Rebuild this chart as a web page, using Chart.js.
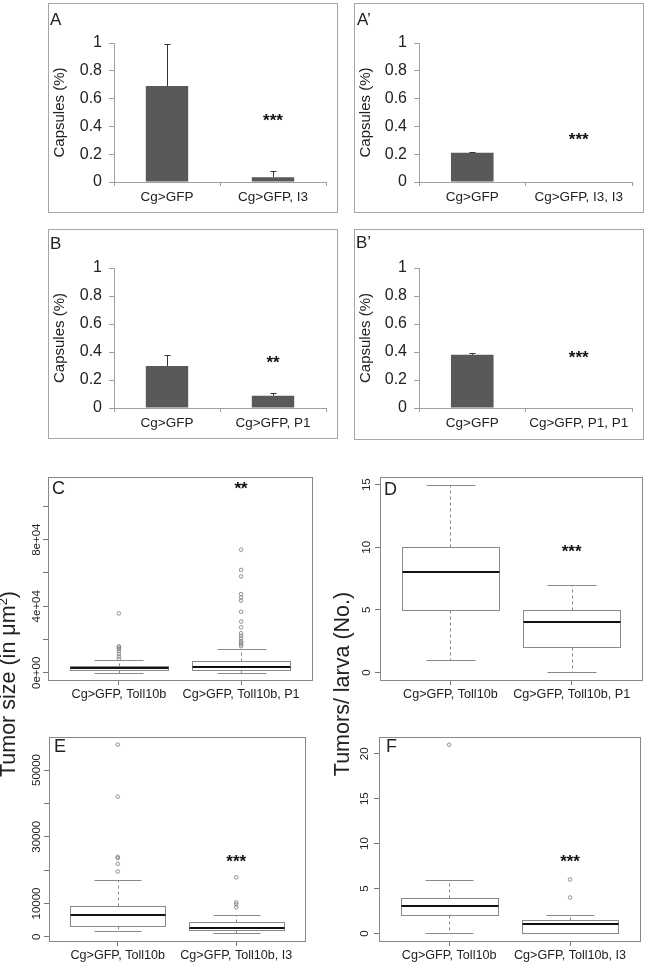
<!DOCTYPE html>
<html>
<head>
<meta charset="utf-8">
<script src="https://cdn.jsdelivr.net/npm/chart.js@4.4.1/dist/chart.umd.min.js"></script>
<style>
body { margin: 0; background: #fff; }
#fig { position: relative; width: 645px; height: 963px; overflow: hidden; font-family: 'Liberation Sans', Arial, sans-serif; color: #222; }
#fig canvas { position: absolute; }
.frame { position: absolute; border: 1px solid #a6a6a6; box-sizing: border-box; }
.tag { position: absolute; line-height: 1; }
.bigtitle { position: absolute; width: 260px; height: 26px; line-height: 26px; text-align: center; font-size: 21.5px; transform: rotate(-90deg); white-space: nowrap; }
.bigtitle sup { font-size: 13px; line-height: 0; }
</style>
</head>
<body>
<div id="fig">
  <div class="frame" style="left:48px;top:3px;width:290px;height:210px"></div>
  <div class="frame" style="left:354px;top:3px;width:290px;height:210px"></div>
  <div class="frame" style="left:48px;top:229px;width:290px;height:210px"></div>
  <div class="frame" style="left:354px;top:229px;width:290px;height:211px"></div>

  <canvas id="cA" width="289" height="209" style="left:48px;top:3px"></canvas>
  <canvas id="cA2" width="289" height="210" style="left:354px;top:3px"></canvas>
  <canvas id="cB" width="289" height="209" style="left:48px;top:229px"></canvas>
  <canvas id="cB2" width="289" height="210" style="left:354px;top:229px"></canvas>

  <canvas id="cC" width="330" height="240" style="left:0px;top:470px"></canvas>
  <canvas id="cD" width="315" height="240" style="left:330px;top:470px"></canvas>
  <canvas id="cE" width="330" height="233" style="left:0px;top:730px"></canvas>
  <canvas id="cF" width="315" height="233" style="left:330px;top:730px"></canvas>

  <div class="tag" style="left:50px;top:11px;font-size:17px">A</div>
  <div class="tag" style="left:357px;top:11px;font-size:17px">A’</div>
  <div class="tag" style="left:50px;top:235px;font-size:17px">B</div>
  <div class="tag" style="left:356px;top:234px;font-size:17px">B’</div>
  <div class="tag" style="left:52px;top:479px;font-size:18px">C</div>
  <div class="tag" style="left:384px;top:480px;font-size:18px">D</div>
  <div class="tag" style="left:54px;top:737px;font-size:18px">E</div>
  <div class="tag" style="left:386px;top:737px;font-size:18px">F</div>

  <div class="bigtitle" style="left:-122px;top:671px">Tumor size (in μm<sup>2</sup>)</div>
  <div class="bigtitle" style="left:212px;top:671px">Tumors/ larva (No.)</div>
</div>

<script>
// ---- bar panels (capsules) ----
const catsA = ['Cg>GFP', 'Cg>GFP, I3'];
const capsA = [0.69, 0.035];
const errA = [0.30, 0.043];
const sigA = ['', '***'];
const sigPosA = [0, 0.47];

const catsA2 = ['Cg>GFP', 'Cg>GFP, I3, I3'];
const capsA2 = [0.21, 0];
const errA2 = [0.006, 0];
const sigA2 = ['', '***'];
const sigPosA2 = [0, 0.335];

const catsB = ['Cg>GFP', 'Cg>GFP, P1'];
const capsB = [0.30, 0.088];
const errB = [0.08, 0.02];
const sigB = ['', '**'];
const sigPosB = [0, 0.355];

const catsB2 = ['Cg>GFP', 'Cg>GFP, P1, P1'];
const capsB2 = [0.38, 0];
const errB2 = [0.015, 0];
const sigB2 = ['', '***'];
const sigPosB2 = [0, 0.393];

const capTicks = [0, 0.2, 0.4, 0.6, 0.8, 1];

// ---- box panels (tumors) ----
const catsCD = ['Cg>GFP, Toll10b', 'Cg>GFP, Toll10b, P1'];
const catsEF = ['Cg>GFP, Toll10b', 'Cg>GFP, Toll10b, I3'];

const loC = [200, 200];
const q1C = [1600, 2000];
const medC = [2900, 3500];
const q3C = [4300, 7000];
const hiC = [7500, 14300];
const outC1 = [8400, 9800, 11400, 13000, 14300, 15300, 15900, 35700];
const outC2 = [16000, 17000, 18000, 19000, 20600, 22200, 23800, 27300, 30800, 36700, 43400, 45300, 47300, 57900, 61800, 74000, 112000];
const yTicksC = [0, 20000, 40000, 60000, 80000, 100000];
const yLabelsC = ['0e+00', '', '4e+04', '', '8e+04', ''];
const sigC = ['', '**'];
const sigPosC = [0, 113500];

const loD = [1, 0];
const q1D = [5, 2];
const medD = [8, 4];
const q3D = [10, 5];
const hiD = [15, 7];
const outD1 = [];
const outD2 = [];
const yTicksD = [0, 5, 10, 15];
const yLabelsD = ['0', '5', '10', '15'];
const sigD = ['', '***'];
const sigPosD = [0, 10];

const loE = [1775, 1270];
const q1E = [3250, 2160];
const medE = [6500, 2660];
const q3E = [9350, 4440];
const hiE = [17160, 6500];
const outE1 = [19600, 21900, 23600, 24000, 42000, 57600];
const outE2 = [8870, 9760, 10350, 17840];
const yTicksE = [0, 10000, 20000, 30000, 40000, 50000];
const yLabelsE = ['0', '10000', '', '30000', '', '50000'];
const sigE = ['', '***'];
const sigPosE = [0, 23800];

const loF = [0, 0];
const q1F = [2, 0];
const medF = [3, 1];
const q3F = [4, 1.5];
const hiF = [6, 2];
const outF1 = [21];
const outF2 = [4, 6];
const yTicksF = [0, 5, 10, 15, 20];
const yLabelsF = ['0', '5', '10', '15', '20'];
const sigF = ['', '***'];
const sigPosF = [0, 8.5];

Chart.defaults.font.family = "'Liberation Sans', Arial, sans-serif";
Chart.defaults.color = '#222';
Chart.defaults.animation = false;

function drawStars(chart, xs, sig, sigPos, size) {
    const ctx = chart.ctx;
    const y = chart.scales.y;
    ctx.save();
    ctx.font = 'bold ' + size + "px 'Liberation Sans', Arial, sans-serif";
    ctx.fillStyle = '#111';
    ctx.textAlign = 'center';
    ctx.textBaseline = 'alphabetic';
    sig.forEach((s, i) => {
        if (!s) return;
        // glyph centre of '*' sits about 0.57em above the baseline
        ctx.fillText(s, xs[i], y.getPixelForValue(sigPos[i]) + size * 0.57);
    });
    ctx.restore();
}

function barPanel(id, cats, vals, errs, sig, sigPos, lay) {
    const errorBars = {
        id: 'errorBars',
        afterDatasetsDraw(chart) {
            const ctx = chart.ctx;
            const meta = chart.getDatasetMeta(0);
            const y = chart.scales.y;
            ctx.save();
            ctx.strokeStyle = '#333';
            ctx.lineWidth = 1;
            vals.forEach((v, i) => {
                if (!errs[i]) return;
                const x = Math.round(meta.data[i].x) + 0.5;
                const yb = y.getPixelForValue(v);
                const yt = Math.round(y.getPixelForValue(v + errs[i])) + 0.5;
                ctx.beginPath();
                ctx.moveTo(x, yb);
                ctx.lineTo(x, yt);
                ctx.moveTo(x - 3, yt);
                ctx.lineTo(x + 3, yt);
                ctx.stroke();
            });
            ctx.restore();
            const xs = cats.map((c, i) => chart.scales.x.getPixelForValue(i));
            drawStars(chart, xs, sig, sigPos, 17);
        }
    };
    return new Chart(document.getElementById(id), {
        type: 'bar',
        data: {
            labels: cats,
            datasets: [{
                data: vals,
                backgroundColor: '#595959',
                barPercentage: 0.8,
                categoryPercentage: 0.5
            }]
        },
        options: {
            responsive: false,
            layout: { padding: { top: lay.top, right: lay.right, left: 0, bottom: 0 } },
            plugins: { legend: { display: false }, tooltip: { enabled: false } },
            scales: {
                x: {
                    grid: { drawOnChartArea: false, tickLength: 4, color: '#a0a0a0' },
                    border: { color: '#a0a0a0' },
                    ticks: { font: { size: 13.5 }, color: '#222', padding: 3, maxRotation: 0, autoSkip: false },
                    afterFit: s => { s.height = lay.xh; }
                },
                y: {
                    min: 0, max: 1,
                    afterBuildTicks: s => { s.ticks = capTicks.map(v => ({ value: v })); },
                    ticks: { font: { size: 16 }, color: '#222', padding: 7, callback: v => String(Math.round(v * 10) / 10) },
                    grid: { drawOnChartArea: false, tickLength: 5, color: '#a0a0a0' },
                    border: { color: '#a0a0a0' },
                    title: { display: true, text: 'Capsules (%)', font: { size: 15 }, color: '#222', padding: { top: 3, bottom: 0 } },
                    afterFit: s => { s.width = lay.yw; }
                }
            }
        },
        plugins: [errorBars]
    });
}

function boxPanel(id, cats, lo, q1, med, q3, hi, outs, yMin, yMax, yTicks, yLabels, sig, sigPos, lay) {
    const pts = [];
    outs.forEach((arr, i) => arr.forEach(v => pts.push({ x: i + 1, y: v })));

    const boxDraw = {
        id: 'boxDraw',
        beforeDatasetsDraw(chart) {
            const ctx = chart.ctx;
            const x = chart.scales.x;
            const y = chart.scales.y;
            const r = v => Math.round(v) + 0.5;
            ctx.save();
            med.forEach((m, i) => {
                const c = r(x.getPixelForValue(i + 1));
                const bl = r(x.getPixelForValue(i + 1 - 0.4));
                const br = r(x.getPixelForValue(i + 1 + 0.4));
                const sl = r(x.getPixelForValue(i + 1 - 0.2));
                const sr = r(x.getPixelForValue(i + 1 + 0.2));
                const yLo = r(y.getPixelForValue(lo[i]));
                const yHi = r(y.getPixelForValue(hi[i]));
                const yQ1 = r(y.getPixelForValue(q1[i]));
                const yQ3 = r(y.getPixelForValue(q3[i]));
                const yMed = Math.round(y.getPixelForValue(m));

                // whiskers
                ctx.strokeStyle = '#8a8a8a';
                ctx.lineWidth = 1;
                ctx.setLineDash([3, 3]);
                ctx.beginPath();
                ctx.moveTo(c, yQ3); ctx.lineTo(c, yHi);
                ctx.moveTo(c, yQ1); ctx.lineTo(c, yLo);
                ctx.stroke();
                ctx.setLineDash([]);
                ctx.beginPath();
                ctx.moveTo(sl, yHi); ctx.lineTo(sr, yHi);
                ctx.moveTo(sl, yLo); ctx.lineTo(sr, yLo);
                ctx.stroke();

                // box
                ctx.strokeStyle = '#8a8a8a';
                ctx.strokeRect(bl, yQ3, br - bl, yQ1 - yQ3);

                // median
                ctx.strokeStyle = '#111';
                ctx.lineWidth = 2;
                ctx.beginPath();
                ctx.moveTo(bl, yMed); ctx.lineTo(br, yMed);
                ctx.stroke();
            });
            ctx.restore();
        },
        afterDraw(chart) {
            const ctx = chart.ctx;
            const a = chart.chartArea;
            const y = chart.scales.y;
            ctx.save();
            // plot frame
            ctx.strokeStyle = '#888';
            ctx.lineWidth = 1;
            ctx.strokeRect(Math.round(a.left) + 0.5, Math.round(a.top) + 0.5,
                Math.round(a.right - a.left), Math.round(a.bottom - a.top));
            // y tick labels, rotated like R's default
            ctx.fillStyle = '#222';
            ctx.font = "11.5px 'Liberation Sans', Arial, sans-serif";
            ctx.textAlign = 'center';
            ctx.textBaseline = 'middle';
            yTicks.forEach((v, i) => {
                if (!yLabels[i]) return;
                ctx.save();
                ctx.translate(a.left - lay.lab, y.getPixelForValue(v));
                ctx.rotate(-Math.PI / 2);
                ctx.fillText(yLabels[i], 0, 0);
                ctx.restore();
            });
            ctx.restore();
            const xs = cats.map((c, i) => chart.scales.x.getPixelForValue(i + 1));
            drawStars(chart, xs, sig, sigPos, 17);
        }
    };

    return new Chart(document.getElementById(id), {
        type: 'scatter',
        data: {
            datasets: [{
                data: pts,
                pointRadius: 1.8,
                pointBorderWidth: 0.8,
                borderColor: '#777',
                backgroundColor: 'rgba(0,0,0,0)'
            }]
        },
        options: {
            responsive: false,
            layout: { padding: { top: lay.top, right: lay.right, left: 0, bottom: 0 } },
            plugins: { legend: { display: false }, tooltip: { enabled: false } },
            scales: {
                x: {
                    type: 'linear', min: 0.42, max: 2.58,
                    afterBuildTicks: s => { s.ticks = [{ value: 1 }, { value: 2 }]; },
                    ticks: { callback: v => cats[Math.round(v) - 1], font: { size: 12.6 }, color: '#222', padding: 2, maxRotation: 0, autoSkip: false },
                    grid: { drawOnChartArea: false, tickLength: 5, color: '#777' },
                    border: { display: false },
                    afterFit: s => { s.height = lay.xh; }
                },
                y: {
                    min: yMin, max: yMax,
                    afterBuildTicks: s => { s.ticks = yTicks.map(v => ({ value: v })); },
                    ticks: { callback: () => '', padding: 0 },
                    grid: { drawOnChartArea: false, tickLength: 5, color: '#777' },
                    border: { display: false },
                    afterFit: s => { s.width = lay.yw; }
                }
            }
        },
        plugins: [boxDraw]
    });
}

barPanel('cA', catsA, capsA, errA, sigA, sigPosA, { yw: 66, top: 40, right: 11, xh: 30 });
barPanel('cA2', catsA2, capsA2, errA2, sigA2, sigPosA2, { yw: 65, top: 40, right: 11, xh: 31 });
barPanel('cB', catsB, capsB, errB, sigB, sigPosB, { yw: 66, top: 39, right: 11, xh: 30 });
barPanel('cB2', catsB2, capsB2, errB2, sigB2, sigPosB2, { yw: 65, top: 39, right: 11, xh: 31 });

boxPanel('cC', catsCD, loC, q1C, medC, q3C, hiC, [outC1, outC2], -4300, 117500, yTicksC, yLabelsC, sigC, sigPosC,
    { yw: 48, top: 3, right: 18, xh: 30, lab: 11 });
boxPanel('cD', catsCD, loD, q1D, medD, q3D, hiD, [outD1, outD2], -0.6, 15.6, yTicksD, yLabelsD, sigD, sigPosD,
    { yw: 50, top: 3, right: 3, xh: 30, lab: 13 });
boxPanel('cE', catsEF, loE, q1E, medE, q3E, hiE, [outE1, outE2], -1230, 59830, yTicksE, yLabelsE, sigE, sigPosE,
    { yw: 49, top: 4, right: 25, xh: 22, lab: 12 });
boxPanel('cF', catsEF, loF, q1F, medF, q3F, hiF, [outF1, outF2], -0.84, 21.84, yTicksF, yLabelsF, sigF, sigPosF,
    { yw: 49, top: 5, right: 3, xh: 22, lab: 14 });
</script>
</body>
</html>
